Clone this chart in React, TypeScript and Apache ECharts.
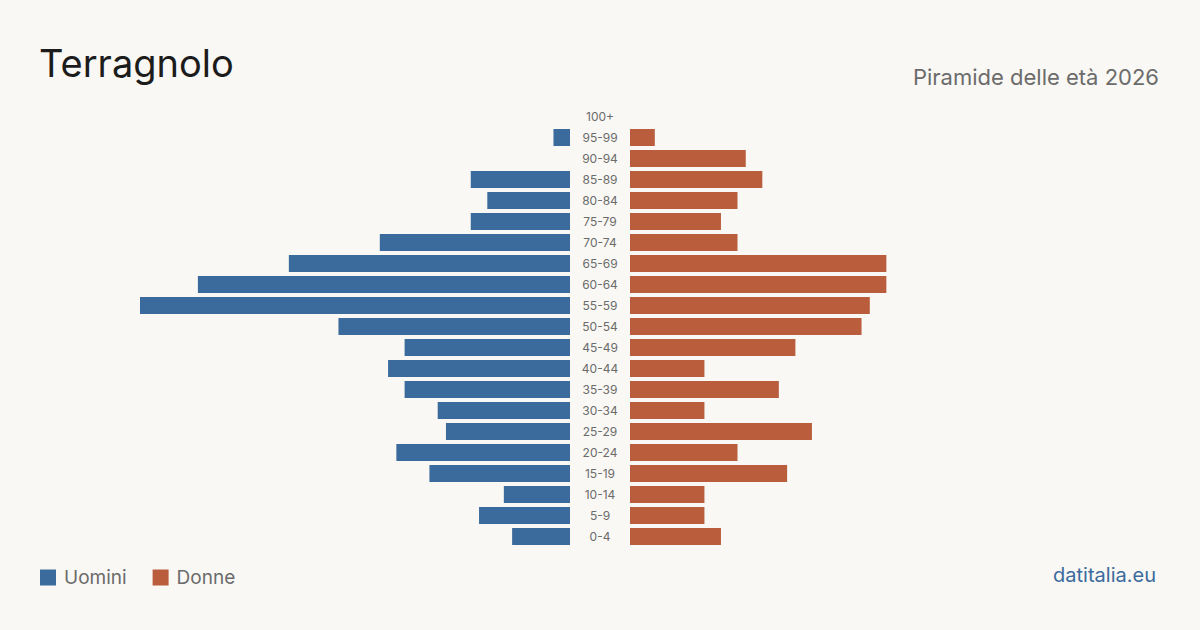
import React, { useEffect, useRef } from "react";
import * as echarts from "echarts";

const ageGroups = ["0-4", "5-9", "10-14", "15-19", "20-24", "25-29", "30-34", "35-39", "40-44", "45-49", "50-54", "55-59", "60-64", "65-69", "70-74", "75-79", "80-84", "85-89", "90-94", "95-99", "100+"];
const men = [7, 11, 8, 17, 21, 15, 16, 20, 22, 20, 28, 52, 45, 34, 23, 12, 10, 12, 0, 2, 0];
const women = [11, 9, 9, 19, 13, 22, 9, 18, 9, 20, 28, 29, 31, 31, 13, 11, 13, 16, 14, 3, 0];

const BLUE = "#3b6b9c";
const ORANGE = "#b95d3d";
const BG = "#f9f8f4";
const FONT = "Inter, 'Noto Sans', sans-serif";

export default function App() {
  const ref = useRef<HTMLDivElement>(null);

  useEffect(() => {
    if (!ref.current) return;
    const chart = echarts.init(ref.current, undefined, { renderer: "svg" });
    const axisMax = Math.max(...men, ...women);
    chart.setOption({
      animation: false,
      backgroundColor: BG,
      textStyle: { fontFamily: FONT },
      title: [
        {
          text: "Terragnolo",
          left: 39,
          top: 44,
          padding: 0,
          textStyle: { fontSize: 38, fontWeight: 400, color: "#1c1c1c", fontFamily: FONT },
        },
        {
          text: "Piramide delle età 2026",
          right: 41,
          top: 66,
          padding: 0,
          textStyle: { fontSize: 22, fontWeight: 400, color: "#6b6b6b", fontFamily: FONT },
        },
        {
          text: "datitalia.eu",
          right: 44,
          top: 565,
          padding: 0,
          textStyle: { fontSize: 20, fontWeight: 400, color: BLUE, fontFamily: FONT },
        },
      ],
      legend: {
        left: 40,
        top: 568,
        padding: 0,
        icon: "rect",
        itemWidth: 16,
        itemHeight: 16,
        itemGap: 26,
        textStyle: { fontSize: 19, color: "#6b6b6b", fontFamily: FONT, padding: [0, 0, 0, 3] },
        data: ["Uomini", "Donne"],
      },
      grid: [
        { left: 140, width: 430, top: 106, height: 441 },
        { left: 630, width: 430, top: 106, height: 441 },
      ],
      xAxis: [
        { gridIndex: 0, type: "value", min: 0, max: axisMax, inverse: true, show: false },
        { gridIndex: 1, type: "value", min: 0, max: axisMax, show: false },
      ],
      yAxis: [
        {
          gridIndex: 0,
          type: "category",
          data: ageGroups,
          position: "right",
          axisLine: { show: false },
          axisTick: { show: false },
          axisLabel: { margin: 30, align: "center", fontSize: 12, color: "#6b6b6b", fontFamily: FONT },
        },
        {
          gridIndex: 1,
          type: "category",
          data: ageGroups,
          show: false,
        },
      ],
      series: [
        {
          name: "Uomini",
          type: "bar",
          xAxisIndex: 0,
          yAxisIndex: 0,
          data: men,
          barWidth: 17,
          itemStyle: { color: BLUE },
        },
        {
          name: "Donne",
          type: "bar",
          xAxisIndex: 1,
          yAxisIndex: 1,
          data: women,
          barWidth: 17,
          itemStyle: { color: ORANGE },
        },
      ],
    });
    return () => chart.dispose();
  }, []);

  return <div ref={ref} style={{ width: 1200, height: 630, position: "absolute", left: 0, top: 0 }} />;
}
